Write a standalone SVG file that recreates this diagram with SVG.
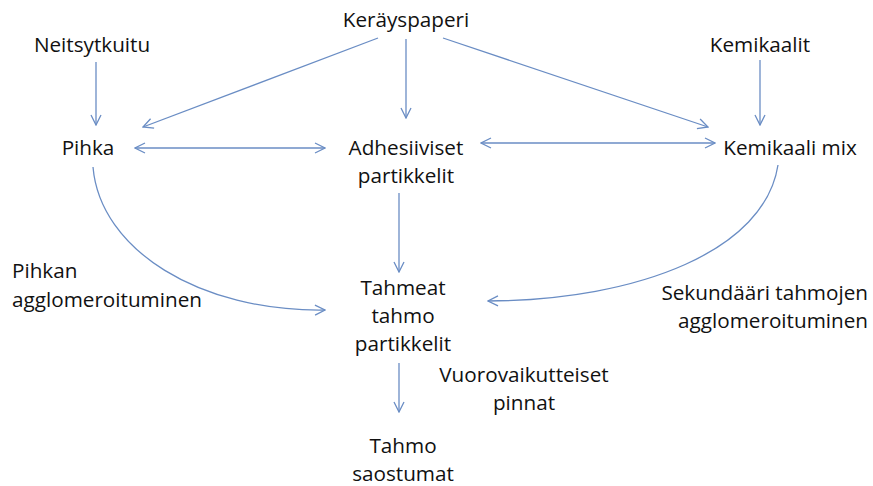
<svg xmlns="http://www.w3.org/2000/svg" width="873" height="486" viewBox="0 0 873 486">
<defs>
<style>
text{font-family:"Open Sans","Noto Sans","Liberation Sans",sans-serif;font-size:20.7px;fill:#111111}
.c{text-anchor:middle}
.e{text-anchor:end}
.ln{fill:none;stroke:#6a8dc4;stroke-width:1.3;marker-end:url(#ah)}
.bi{marker-start:url(#ah)}
</style>
<marker id="ah" viewBox="0 0 12 12" refX="11" refY="6" markerWidth="12" markerHeight="12" markerUnits="userSpaceOnUse" orient="auto-start-reverse">
<path d="M1,1 L11,6 L1,11" fill="none" stroke="#6a8dc4" stroke-width="1.3"/>
</marker>
</defs>
<rect width="873" height="486" fill="#ffffff"/>
<g id="connectors">
<line class="ln" x1="96" y1="62" x2="96" y2="125"/>
<line class="ln" x1="378" y1="38" x2="143" y2="127"/>
<line class="ln" x1="406" y1="39" x2="406" y2="118"/>
<line class="ln" x1="443" y1="38" x2="708" y2="127"/>
<line class="ln" x1="760" y1="60" x2="760" y2="125"/>
<line class="ln bi" x1="135" y1="148" x2="325" y2="148"/>
<line class="ln bi" x1="481" y1="143" x2="715" y2="143"/>
<line class="ln" x1="399" y1="193" x2="399" y2="272"/>
<line class="ln" x1="399" y1="363" x2="399" y2="412"/>
<path class="ln" d="M93,167 C100,250 200,312 325,310"/>
<path class="ln" d="M778,165 C765,250 640,300 488,301"/>
</g>
<g id="n-kerayspaperi"><text class="c" x="406" y="27">Keräyspaperi</text></g>
<g id="n-neitsytkuitu"><text class="c" x="92" y="52">Neitsytkuitu</text></g>
<g id="n-kemikaalit"><text class="c" x="760" y="52">Kemikaalit</text></g>
<g id="n-pihka"><text class="c" x="88" y="155">Pihka</text></g>
<g id="n-adhesiiviset"><text class="c" x="406" y="155">Adhesiiviset</text><text class="c" x="406" y="183">partikkelit</text></g>
<g id="n-kemikaalimix"><text class="c" x="790" y="155">Kemikaali mix</text></g>
<g id="n-tahmeat"><text class="c" x="403" y="295">Tahmeat</text><text class="c" x="403" y="323">tahmo</text><text class="c" x="403" y="351">partikkelit</text></g>
<g id="n-tahmo"><text class="c" x="403" y="453">Tahmo</text><text class="c" x="403" y="481">saostumat</text></g>
<g id="l-pihkan"><text x="12" y="278">Pihkan</text><text x="12" y="307">agglomeroituminen</text></g>
<g id="l-vuoro"><text class="c" x="524" y="382">Vuorovaikutteiset</text><text class="c" x="524" y="410">pinnat</text></g>
<g id="l-sekundaari"><text class="e" x="868" y="300">Sekundääri tahmojen</text><text class="e" x="868" y="328">agglomeroituminen</text></g>
</svg>
